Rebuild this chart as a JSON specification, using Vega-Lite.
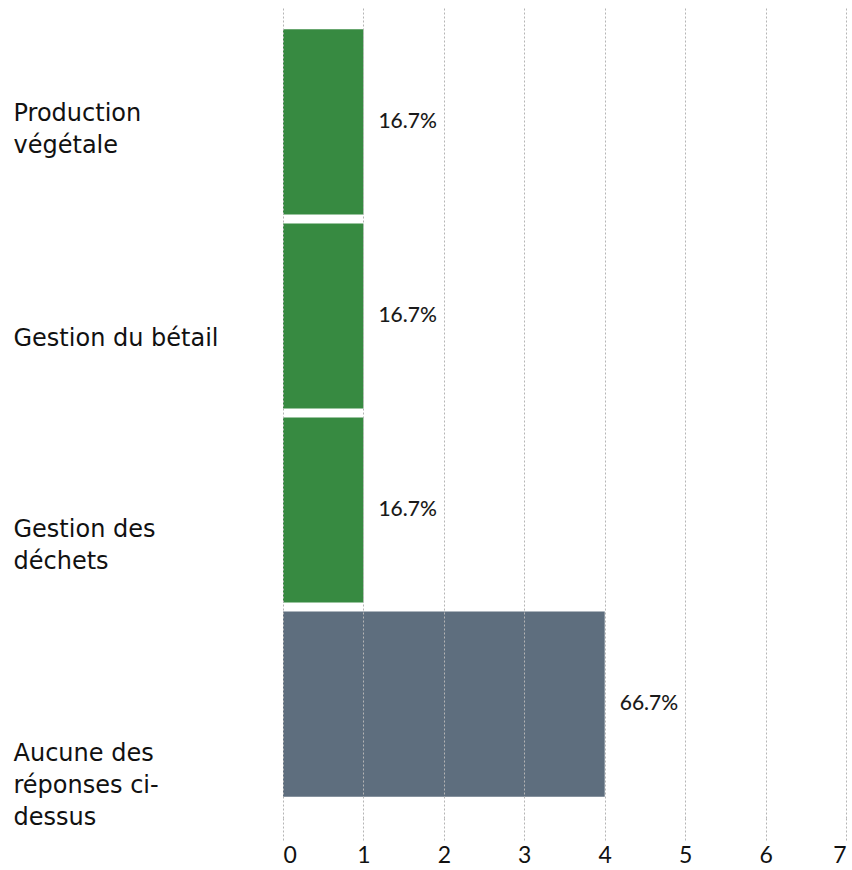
{
  "$schema": "https://vega.github.io/schema/vega-lite/v6.json",
  "width": 563,
  "height": 810,
  "padding": {"left": 13, "top": 8, "right": 5, "bottom": 0},
  "background": "white",
  "config": {"view": {"stroke": null}},
  "data": {
    "values": [
      {"categorie": "Production végétale", "nombre": 1, "pct": "16.7%", "groupe": "a"},
      {"categorie": "Gestion du bétail", "nombre": 1, "pct": "16.7%", "groupe": "a"},
      {"categorie": "Gestion des déchets", "nombre": 1, "pct": "16.7%", "groupe": "a"},
      {"categorie": "Aucune des réponses ci-dessus", "nombre": 4, "pct": "66.7%", "groupe": "b"}
    ]
  },
  "encoding": {
    "y": {
      "field": "categorie",
      "type": "nominal",
      "sort": null,
      "title": null,
      "scale": {"paddingInner": 0.046, "paddingOuter": 0.11},
      "axis": {
        "domain": false,
        "ticks": false,
        "labelAlign": "left",
        "labelBaseline": "middle",
        "labelPadding": 270,
        "labelFont": "DejaVu Sans",
        "labelFontSize": 24,
        "labelColor": "#111111",
        "labelLineHeight": 32,
        "labelLimit": 300,
        "labelOffset": {
          "condition": [
            {"test": "datum.value === 'Production végétale'", "value": -8},
            {"test": "datum.value === 'Gestion du bétail'", "value": 23},
            {"test": "datum.value === 'Gestion des déchets'", "value": 20}
          ],
          "value": 50
        },
        "labelExpr": "datum.value === 'Production végétale' ? ['Production', 'végétale'] : datum.value === 'Gestion des déchets' ? ['Gestion des', 'déchets'] : datum.value === 'Aucune des réponses ci-dessus' ? ['Aucune des', 'réponses ci-', 'dessus'] : datum.value"
      }
    }
  },
  "layer": [
    {
      "mark": {"type": "bar"},
      "encoding": {
        "x": {
          "field": "nombre",
          "type": "quantitative",
          "title": null,
          "scale": {"domain": [0, 7], "nice": false},
          "axis": {
            "values": [0, 1, 2, 3, 4, 5, 6, 7],
            "format": "d",
            "domain": false,
            "grid": true,
            "gridDash": [2, 2],
            "gridColor": "#b5b5b5",
            "gridWidth": 1,
            "ticks": true,
            "tickSize": 22,
            "tickDash": [2, 2],
            "tickColor": "#b5b5b5",
            "labelPadding": 4,
            "labelFont": "Lato",
            "labelFontSize": 23,
            "labelColor": "#111111",
            "zindex": 1
          }
        },
        "color": {
          "field": "groupe",
          "type": "nominal",
          "scale": {"domain": ["a", "b"], "range": ["#378a41", "#5e6e7e"]},
          "legend": null
        }
      }
    },
    {
      "mark": {"type": "text", "align": "left", "baseline": "middle", "dx": 15, "font": "Lato", "fontSize": 21, "fontWeight": 500, "color": "#1a1a1a"},
      "encoding": {
        "x": {"field": "nombre", "type": "quantitative"},
        "text": {"field": "pct"}
      }
    }
  ]
}
